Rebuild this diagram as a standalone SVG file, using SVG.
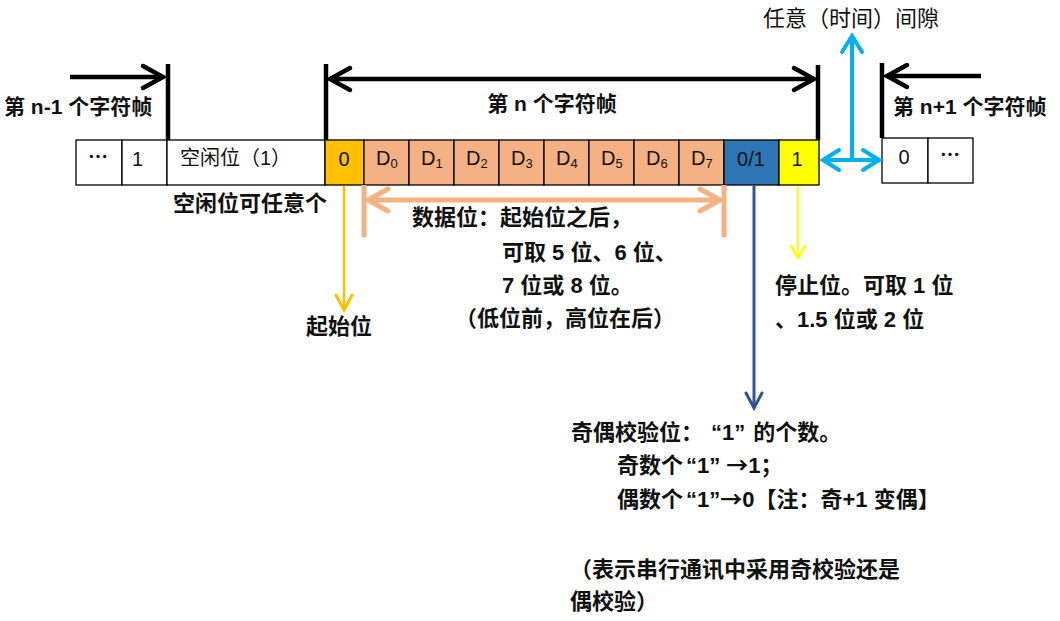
<svg xmlns="http://www.w3.org/2000/svg" width="1060" height="621" viewBox="0 0 1060 621">
<style>
.cell{stroke:#000;stroke-width:1.3}
.ct{font-family:"Liberation Sans","Noto Sans CJK SC",sans-serif;font-size:20px;fill:#111}
.dots{font-family:"Noto Sans CJK SC",sans-serif;font-size:20px;font-weight:bold;fill:#111}
.lb{font-family:"Liberation Sans","Noto Sans CJK SC",sans-serif;font-size:22px;font-weight:bold;fill:#111}
.lt{font-family:"Liberation Sans","Noto Sans CJK SC",sans-serif;font-size:21px;font-weight:bold;fill:#111}
.lr{font-family:"Liberation Sans","Noto Sans CJK SC",sans-serif;font-size:22px;fill:#111}
.q{font-family:"Noto Sans CJK SC",sans-serif}
.sub{font-size:13px}
.blk{stroke:#000;stroke-width:4.5;fill:none}
</style>
<defs>
<marker id="mk" markerUnits="userSpaceOnUse" markerWidth="40" markerHeight="40" refX="0" refY="0" viewBox="-30 -20 40 40" orient="auto-start-reverse" overflow="visible"><path d="M-20,-11 L0,0 L-20,11" fill="none" stroke="#000" stroke-width="4.5" stroke-linecap="round"/></marker>
<marker id="mb" markerUnits="userSpaceOnUse" markerWidth="40" markerHeight="40" refX="0" refY="0" viewBox="-30 -20 40 40" orient="auto-start-reverse" overflow="visible"><path d="M-16,-10 L0,0 L-16,10" fill="none" stroke="#00B0F0" stroke-width="4" stroke-linecap="round"/></marker>
<marker id="ms" markerUnits="userSpaceOnUse" markerWidth="40" markerHeight="40" refX="0" refY="0" viewBox="-30 -20 40 40" orient="auto-start-reverse" overflow="visible"><path d="M-20,-11 L0,0 L-20,11" fill="none" stroke="#F4B183" stroke-width="5" stroke-linecap="round"/></marker>
<marker id="mo" markerUnits="userSpaceOnUse" markerWidth="40" markerHeight="40" refX="0" refY="0" viewBox="-30 -20 40 40" orient="auto-start-reverse" overflow="visible"><path d="M-15,-8 L0,0 L-15,8" fill="none" stroke="#FFC000" stroke-width="3" stroke-linecap="round"/></marker>
<marker id="md" markerUnits="userSpaceOnUse" markerWidth="40" markerHeight="40" refX="0" refY="0" viewBox="-30 -20 40 40" orient="auto-start-reverse" overflow="visible"><path d="M-15,-8 L0,0 L-15,8" fill="none" stroke="#2F5597" stroke-width="3" stroke-linecap="round"/></marker>
<marker id="my" markerUnits="userSpaceOnUse" markerWidth="40" markerHeight="40" refX="0" refY="0" viewBox="-30 -20 40 40" orient="auto-start-reverse" overflow="visible"><path d="M-12,-7 L0,0 L-12,7" fill="none" stroke="#FFFF00" stroke-width="2.5" stroke-linecap="round"/></marker>
</defs>
<rect width="1060" height="621" fill="#fff"/>

<g id="frame-prev">
<rect class="cell" x="76" y="140" width="46" height="45" fill="#fff"/>
<text class="dots" x="98" y="164" text-anchor="middle">…</text>
<rect class="cell" x="122" y="140" width="45" height="45" fill="#fff"/>
<text class="ct" x="132" y="166">1</text>
<rect class="cell" x="167" y="140" width="158" height="45" fill="#fff"/>
<text class="ct" x="180" y="165">空闲位（1）</text>
</g>

<g id="start-bit">
<rect class="cell" x="325" y="140" width="39" height="45" fill="#FFC000"/>
<text class="ct" x="344" y="166" text-anchor="middle">0</text>
</g>

<g id="data-bits">
<rect class="cell" x="364" y="140" width="45" height="45" fill="#F4B183"/>
<rect class="cell" x="409" y="140" width="45" height="45" fill="#F4B183"/>
<rect class="cell" x="454" y="140" width="45" height="45" fill="#F4B183"/>
<rect class="cell" x="499" y="140" width="45" height="45" fill="#F4B183"/>
<rect class="cell" x="544" y="140" width="45" height="45" fill="#F4B183"/>
<rect class="cell" x="589" y="140" width="45" height="45" fill="#F4B183"/>
<rect class="cell" x="634" y="140" width="45" height="45" fill="#F4B183"/>
<rect class="cell" x="679" y="140" width="45" height="45" fill="#F4B183"/>
<text class="ct" x="376" y="165">D<tspan class="sub" dy="3">0</tspan></text>
<text class="ct" x="421" y="165">D<tspan class="sub" dy="3">1</tspan></text>
<text class="ct" x="466" y="165">D<tspan class="sub" dy="3">2</tspan></text>
<text class="ct" x="511" y="165">D<tspan class="sub" dy="3">3</tspan></text>
<text class="ct" x="556" y="165">D<tspan class="sub" dy="3">4</tspan></text>
<text class="ct" x="601" y="165">D<tspan class="sub" dy="3">5</tspan></text>
<text class="ct" x="646" y="165">D<tspan class="sub" dy="3">6</tspan></text>
<text class="ct" x="691" y="165">D<tspan class="sub" dy="3">7</tspan></text>
</g>

<g id="parity-bit">
<rect class="cell" x="724" y="140" width="55" height="45" fill="#2E75B6"/>
<text class="ct" x="751" y="166" text-anchor="middle">0/1</text>
</g>

<g id="stop-bit">
<rect class="cell" x="779" y="140" width="40" height="45" fill="#FFFF00"/>
<text class="ct" x="797" y="166" text-anchor="middle">1</text>
</g>

<g id="frame-next">
<rect class="cell" x="882" y="138" width="46" height="45" fill="#fff"/>
<text class="ct" x="904" y="164" text-anchor="middle">0</text>
<rect class="cell" x="928" y="138" width="45" height="45" fill="#fff"/>
<text class="dots" x="950" y="162" text-anchor="middle">…</text>
</g>

<g id="connectors">
<line class="blk" x1="168" y1="64" x2="168" y2="140"/>
<line class="blk" x1="326" y1="64" x2="326" y2="140"/>
<line class="blk" x1="818" y1="65" x2="818" y2="140"/>
<line class="blk" x1="882" y1="63" x2="882" y2="138"/>
<line class="blk" x1="70" y1="77" x2="163" y2="77" marker-end="url(#mk)"/>
<line class="blk" x1="330" y1="79" x2="814" y2="79" marker-start="url(#mk)" marker-end="url(#mk)"/>
<line class="blk" x1="981" y1="76" x2="887" y2="76" marker-end="url(#mk)"/>
<line x1="852" y1="160" x2="852" y2="36" stroke="#00B0F0" stroke-width="4" marker-end="url(#mb)"/>
<line x1="823" y1="160" x2="879" y2="160" stroke="#00B0F0" stroke-width="4" marker-start="url(#mb)" marker-end="url(#mb)"/>
<line x1="344" y1="186" x2="344" y2="310" stroke="#FFC000" stroke-width="2.5" marker-end="url(#mo)"/>
<line x1="364" y1="185" x2="364" y2="237" stroke="#F4B183" stroke-width="5"/>
<line x1="724" y1="185" x2="724" y2="237" stroke="#F4B183" stroke-width="5"/>
<line x1="368" y1="200" x2="720" y2="200" stroke="#F4B183" stroke-width="5" marker-start="url(#ms)" marker-end="url(#ms)"/>
<line x1="754" y1="186" x2="754" y2="408" stroke="#2F5597" stroke-width="3" marker-end="url(#md)"/>
<line x1="798" y1="186" x2="798" y2="258" stroke="#FFFF00" stroke-width="2" marker-end="url(#my)"/>
</g>

<g id="labels">
<text class="lt" x="4" y="114">第 n-1 个字符帧</text>
<text class="lt" x="552" y="111" text-anchor="middle">第 n 个字符帧</text>
<text class="lt" x="893" y="114">第 n+1 个字符帧</text>
<text class="lr" x="763" y="26">任意（时间）间隙</text>
<text class="lb" x="173" y="211">空闲位可任意个</text>
<text class="lb" x="306" y="334">起始位</text>
<text class="lb" x="412" y="225">数据位：起始位之后，</text>
<text class="lb" x="502" y="260">可取 5 位、6 位、</text>
<text class="lb" x="502" y="293">7 位或 8 位。</text>
<text class="lb" x="455" y="326">（低位前，高位在后）</text>
<text class="lb" x="775" y="293">停止位。可取 1 位</text>
<text class="lb" x="775" y="327">、1.5 位或 2 位</text>
<text class="lb" x="571" y="440">奇偶校验位：<tspan dx="8">“1”</tspan><tspan dx="8">的个数。</tspan></text>
<text class="lb" x="617" y="473">奇数个<tspan dx="3">“1”</tspan><tspan class="q" dx="6">→</tspan>1；</text>
<text class="lb" x="617" y="507">偶数个<tspan dx="3">“1”</tspan><tspan class="q">→</tspan>0【注：奇+1 变偶】</text>
<text class="lb" x="570" y="577">（表示串行通讯中采用奇校验还是</text>
<text class="lb" x="570" y="609">偶校验）</text>
</g>
</svg>
